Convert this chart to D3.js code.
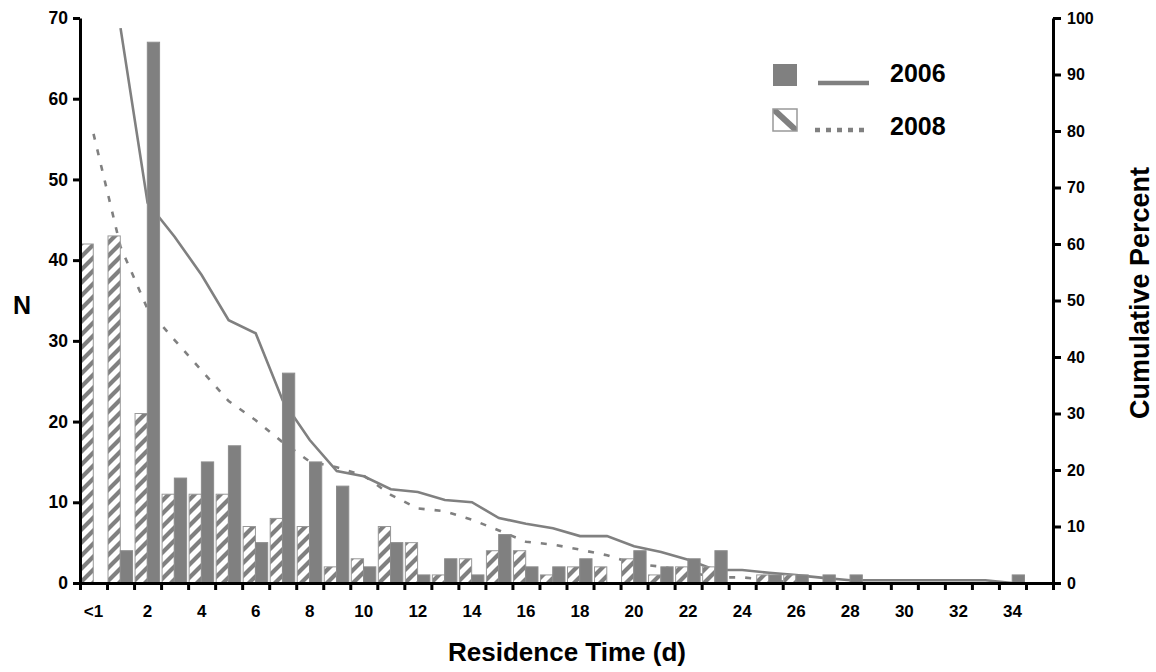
<!DOCTYPE html>
<html><head><meta charset="utf-8">
<script src="https://cdn.jsdelivr.net/npm/d3@7"></script>
<style>
body{margin:0;background:#fff;}
text{font-family:"Liberation Sans",Arial,sans-serif;font-weight:bold;fill:#000;}
</style></head>
<body><svg id="c" width="1156" height="672"></svg>
<script>
const categories = ["<1","1","2","3","4","5","6","7","8","9","10","11","12","13","14","15","16","17","18","19","20","21","22","23","24","25","26","27","28","29","30","31","32","33","34","35"];
const tickLabels = ["<1","2","4","6","8","10","12","14","16","18","20","22","24","26","28","30","32","34"];
const n2006 = [0,4,67,13,15,17,5,26,15,12,2,5,1,3,1,6,2,2,3,0,4,2,3,4,0,1,1,1,1,0,0,0,0,0,1,0];
const n2008 = [42,43,21,11,11,11,7,8,7,2,3,7,5,1,3,4,4,1,2,2,3,1,2,2,0,1,1,0,0,0,0,0,0,0,0,0];
const cum2006 = [null,98.2,67.3,61.3,54.5,46.5,44.2,32.3,25.3,19.8,18.9,16.6,16.1,14.7,14.3,11.5,10.5,9.7,8.3,8.3,6.5,5.5,4.1,2.3,2.3,1.8,1.4,0.9,0.5,0.5,0.5,0.5,0.5,0.5,0,null];
const cum2008 = [79.5,59.5,48.5,43,37.6,32.2,28.8,24.9,21.5,20.5,19,15.6,13.2,12.7,11.2,9.3,7.3,6.8,5.9,4.9,3.4,2.9,2,1,1,0.5,0,null,null,null,null,null,null,null,null,null];
const leftTicks = [0,10,20,30,40,50,60,70];
const rightTicks = [0,10,20,30,40,50,60,70,80,90,100];
const seriesNames = ["2008","2006"];

const GRAY = "#808080";
const svg = d3.select("#c");
const X0 = 80, X1 = 1053, Y0 = 583, Y1 = 18;

const x = d3.scaleBand().domain(categories).range([X0, X1]).padding(0);
const bw = x.bandwidth();
const xSub = d3.scaleBand().domain(seriesNames).range([1, bw - 1.5]).padding(0);
const yL = d3.scaleLinear().domain([0, 70]).range([Y0, Y1]);
const yR = d3.scaleLinear().domain([0, 100]).range([Y0, Y1]);

// hatch pattern
const defs = svg.append("defs");
const P = 13;
const pat = defs.append("pattern").attr("id","hatch").attr("patternUnits","userSpaceOnUse")
  .attr("width",P).attr("height",P);
pat.append("rect").attr("width",P).attr("height",P).attr("fill","#fff");
pat.append("path").attr("d",`M0,${P} L${P},0 M-4,4 L4,-4 M${P-4},${P+4} L${P+4},${P-4}`)
  .attr("stroke",GRAY).attr("stroke-width",4.2);

// lines (behind bars)
const lineGen = d3.line().defined(d => d != null)
  .x((d,i) => x(categories[i]) + bw/2).y(d => yR(d));
svg.append("path").datum(cum2006).attr("d", lineGen)
  .attr("fill","none").attr("stroke",GRAY).attr("stroke-width",2.6);
svg.append("path").datum(cum2008).attr("d", lineGen)
  .attr("fill","none").attr("stroke",GRAY).attr("stroke-width",2.6).attr("stroke-dasharray","6,10");

// bars
const g08 = svg.append("g");
categories.forEach((c,i) => {
  if (n2008[i] > 0) {
    g08.append("rect").attr("x", x(c) + xSub("2008")).attr("width", xSub.bandwidth())
      .attr("y", yL(n2008[i])).attr("height", yL(0) - yL(n2008[i]))
      .attr("fill","url(#hatch)").attr("stroke","#999").attr("stroke-width",1);
  }
});
const g06 = svg.append("g");
categories.forEach((c,i) => {
  if (n2006[i] > 0) {
    g06.append("rect").attr("x", x(c) + xSub("2006")).attr("width", xSub.bandwidth())
      .attr("y", yL(n2006[i])).attr("height", yL(0) - yL(n2006[i]))
      .attr("fill",GRAY).attr("stroke","#8c8c8c").attr("stroke-width",1);
  }
});

// axes
const LS = '"Liberation Sans",Arial,sans-serif';
function styleAxis(g, size){
  g.selectAll("path.domain").attr("stroke","#000").attr("stroke-width",3);
  g.selectAll(".tick line").attr("stroke","#000").attr("stroke-width",3);
  g.selectAll(".tick text").style("font-family",LS)
   .style("font-weight","bold").style("font-size",size).attr("fill","#000");
}
const axL = svg.append("g").attr("transform",`translate(${X0},0)`)
  .call(d3.axisLeft(yL).tickValues(leftTicks).tickSize(7).tickSizeOuter(0).tickPadding(5));
styleAxis(axL, "17.5px");
const axR = svg.append("g").attr("transform",`translate(${X1},0)`)
  .call(d3.axisRight(yR).tickValues(rightTicks).tickSize(8).tickSizeOuter(0).tickPadding(6));
styleAxis(axR, "16px");

const xIdx = d3.scaleLinear().domain([0, categories.length]).range([X0, X1]);
const axB = svg.append("g").attr("transform",`translate(0,${Y0})`)
  .call(d3.axisBottom(xIdx).tickValues(d3.range(categories.length + 1)).tickFormat("").tickSize(7).tickSizeOuter(0));
styleAxis(axB, "17px");
svg.append("g").selectAll("text").data(tickLabels).join("text")
  .attr("x", d => x(d) + bw/2).attr("y", 617).attr("text-anchor","middle")
  .style("font-size","17px").text(d => d);

// titles
svg.append("text").attr("x", 22).attr("y", 314).attr("text-anchor","middle")
  .style("font-size","25px").text("N");
svg.append("text").attr("x", 567).attr("y", 661).attr("text-anchor","middle")
  .style("font-size","26px").text("Residence Time (d)");
svg.append("text").attr("transform","translate(1149,293) rotate(-90)").attr("text-anchor","middle")
  .style("font-size","27px").text("Cumulative Percent");

// legend
const lg = svg.append("g");
lg.append("rect").attr("x",773).attr("y",64).attr("width",24).attr("height",22).attr("fill",GRAY);
lg.append("line").attr("x1",818).attr("x2",869).attr("y1",83).attr("y2",83)
  .attr("stroke",GRAY).attr("stroke-width",4.5);
lg.append("text").attr("x",890).attr("y",82).style("font-size","25px").text(seriesNames[1]);
defs.append("clipPath").attr("id","swclip").append("rect").attr("x",773).attr("y",109).attr("width",24).attr("height",22);
lg.append("rect").attr("x",773).attr("y",109).attr("width",24).attr("height",22).attr("fill","#fff");
lg.append("line").attr("x1",771).attr("y1",107).attr("x2",799).attr("y2",133)
  .attr("stroke",GRAY).attr("stroke-width",6).attr("clip-path","url(#swclip)");
lg.append("rect").attr("x",773).attr("y",109).attr("width",24).attr("height",22).attr("fill","none")
  .attr("stroke","#999").attr("stroke-width",1.5);
lg.append("line").attr("x1",815).attr("x2",866).attr("y1",130).attr("y2",130)
  .attr("stroke",GRAY).attr("stroke-width",4.5).attr("stroke-dasharray","5,6");
lg.append("text").attr("x",890).attr("y",135).style("font-size","25px").text(seriesNames[0]);
</script></body></html>
